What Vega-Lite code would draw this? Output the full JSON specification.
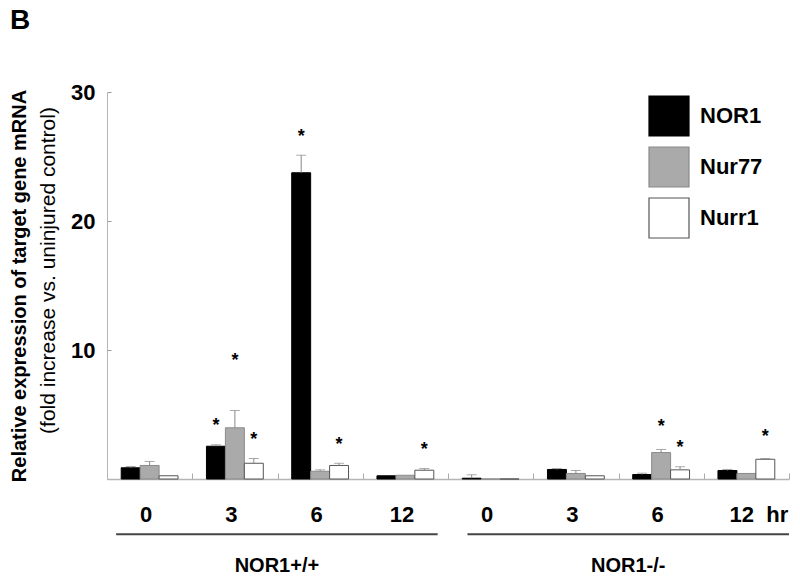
{
  "$schema": "https://vega.github.io/schema/vega-lite/v6.json",
  "width": 682,
  "height": 387,
  "autosize": {"type": "none"},
  "padding": {"left": 107, "top": 92, "right": 11, "bottom": 100},
  "background": "white",
  "config": {"font": "Liberation Sans", "view": {"stroke": null}, "axis": {"grid": false}},
  "title": {"text": "B", "anchor": "start", "frame": "group", "fontSize": 28, "fontWeight": "bold", "dx": -97, "offset": 46, "color": "black"},
  "datasets": {
    "expr": [
      {"group": "a_0", "gene": "NOR1", "value": 0.87, "hi": 0.97, "star": null},
      {"group": "a_0", "gene": "Nur77", "value": 1.05, "hi": 1.36, "star": null},
      {"group": "a_0", "gene": "Nurr1", "value": 0.25, "hi": 0.25, "star": null},
      {"group": "a_3", "gene": "NOR1", "value": 2.54, "hi": 2.65, "star": 4.38},
      {"group": "a_3", "gene": "Nur77", "value": 3.97, "hi": 5.31, "star": 9.42},
      {"group": "a_3", "gene": "Nurr1", "value": 1.22, "hi": 1.59, "star": 3.37},
      {"group": "a_6", "gene": "NOR1", "value": 23.74, "hi": 25.1, "star": 26.8},
      {"group": "a_6", "gene": "Nur77", "value": 0.6, "hi": 0.71, "star": null},
      {"group": "a_6", "gene": "Nurr1", "value": 1.05, "hi": 1.22, "star": 2.98},
      {"group": "a_12", "gene": "NOR1", "value": 0.25, "hi": 0.25, "star": null},
      {"group": "a_12", "gene": "Nur77", "value": 0.29, "hi": 0.29, "star": null},
      {"group": "a_12", "gene": "Nurr1", "value": 0.68, "hi": 0.81, "star": 2.54},
      {"group": "b_0", "gene": "NOR1", "value": 0.06, "hi": 0.33, "star": null},
      {"group": "b_0", "gene": "Nur77", "value": 0, "hi": 0, "star": null},
      {"group": "b_0", "gene": "Nurr1", "value": 0, "hi": 0, "star": null},
      {"group": "b_3", "gene": "NOR1", "value": 0.74, "hi": 0.81, "star": null},
      {"group": "b_3", "gene": "Nur77", "value": 0.43, "hi": 0.66, "star": null},
      {"group": "b_3", "gene": "Nurr1", "value": 0.25, "hi": 0.25, "star": null},
      {"group": "b_6", "gene": "NOR1", "value": 0.35, "hi": 0.45, "star": null},
      {"group": "b_6", "gene": "Nur77", "value": 2.05, "hi": 2.29, "star": 4.36},
      {"group": "b_6", "gene": "Nurr1", "value": 0.71, "hi": 0.95, "star": 2.75},
      {"group": "b_12", "gene": "NOR1", "value": 0.66, "hi": 0.74, "star": null},
      {"group": "b_12", "gene": "Nur77", "value": 0.43, "hi": 0.43, "star": null},
      {"group": "b_12", "gene": "Nurr1", "value": 1.53, "hi": 1.59, "star": 3.53}
    ],
    "genotypes": [{"geno": "NOR1+/+"}, {"geno": "NOR1-/-"}]
  },
  "layer": [
    {
      "data": {"name": "expr"},
      "mark": {"type": "bar", "strokeWidth": 1},
      "encoding": {
        "x": {
          "field": "group", "type": "nominal",
          "scale": {"domain": ["a_0", "a_3", "a_6", "a_12", "b_0", "b_3", "b_6", "b_12"], "paddingInner": 0, "paddingOuter": 0},
          "axis": {
            "orient": "bottom", "title": null,
            "labelExpr": "datum.value === 'b_12' ? '12\u00a0\u00a0hr' : split(datum.value, '_')[1]",
            "labelAngle": 0, "labelFontSize": 22, "labelFontWeight": "bold", "labelColor": "black",
            "labelPadding": 31,
            "labelOffset": {"condition": {"test": "datum.value === 'b_12'", "value": 12}, "value": -4},
            "tickBand": "extent", "tickSize": -6, "tickColor": "#aaaaaa", "domainColor": "#b5b5b5", "domainWidth": 1.5
          }
        },
        "xOffset": {"field": "gene", "type": "nominal", "scale": {"domain": ["NOR1", "Nur77", "Nurr1"], "paddingOuter": 0.75, "paddingInner": 0}},
        "y": {
          "field": "value", "type": "quantitative",
          "scale": {"domain": [0, 30], "nice": false},
          "axis": {
            "orient": "left", "values": [10, 20, 30], "tickSize": -4, "tickColor": "#999999", "domainColor": "#b5b5b5",
            "labelFontSize": 22, "labelFontWeight": "bold", "labelColor": "black", "labelPadding": 16,
            "title": "Relative expression of target gene mRNA", "titleFontSize": 20, "titleFontWeight": "bold", "titleColor": "black", "titlePadding": 41
          }
        },
        "fill": {
          "field": "gene", "type": "nominal",
          "scale": {"domain": ["NOR1", "Nur77", "Nurr1"], "range": ["#000000", "#aaaaaa", "#ffffff"]},
          "legend": {
            "title": null, "orient": "none", "legendX": 541, "legendY": 3, "padding": 0,
            "symbolType": "square", "symbolSize": 1600, "symbolStrokeColor": "black", "symbolStrokeWidth": 1.2,
            "rowPadding": 5, "labelOffset": 10, "labelFontSize": 22, "labelFontWeight": "bold", "labelColor": "black",
            "encode": {"symbols": {"update": {"fill": {"signal": "datum.value === 'Nur77' ? '#777777' : scale('fill', datum.value)"}, "stroke": {"value": "black"}}}}
          }
        },
        "stroke": {
          "field": "gene", "type": "nominal",
          "scale": {"domain": ["NOR1", "Nur77", "Nurr1"], "range": ["#000000", "#8a8a8a", "#555555"]},
          "legend": null
        }
      }
    },
    {
      "data": {"name": "expr"},
      "transform": [{"filter": "datum.hi > datum.value"}],
      "mark": {"type": "rule", "color": "#888888", "strokeWidth": 1},
      "encoding": {
        "x": {"field": "group", "type": "nominal", "axis": null, "scale": {"domain": ["a_0", "a_3", "a_6", "a_12", "b_0", "b_3", "b_6", "b_12"], "paddingInner": 0, "paddingOuter": 0}},
        "xOffset": {"field": "gene", "type": "nominal", "scale": {"domain": ["NOR1", "Nur77", "Nurr1"], "paddingOuter": 0.75, "paddingInner": 0}},
        "y": {"field": "value", "type": "quantitative", "axis": null, "scale": {"domain": [0, 30], "nice": false}},
        "y2": {"field": "hi"}
      }
    },
    {
      "data": {"name": "expr"},
      "transform": [{"filter": "datum.hi > datum.value"}],
      "mark": {"type": "tick", "color": "#888888", "thickness": 1, "size": 10},
      "encoding": {
        "x": {"field": "group", "type": "nominal", "axis": null, "scale": {"domain": ["a_0", "a_3", "a_6", "a_12", "b_0", "b_3", "b_6", "b_12"], "paddingInner": 0, "paddingOuter": 0}},
        "xOffset": {"field": "gene", "type": "nominal", "scale": {"domain": ["NOR1", "Nur77", "Nurr1"], "paddingOuter": 0.75, "paddingInner": 0}},
        "y": {"field": "hi", "type": "quantitative", "axis": null, "scale": {"domain": [0, 30], "nice": false}}
      }
    },
    {
      "data": {"name": "expr"},
      "transform": [{"filter": "datum.star != null"}],
      "mark": {"type": "text", "text": "*", "fontSize": 18, "fontWeight": "bold", "baseline": "alphabetic", "dy": 9, "color": "black"},
      "encoding": {
        "x": {"field": "group", "type": "nominal", "axis": null, "scale": {"domain": ["a_0", "a_3", "a_6", "a_12", "b_0", "b_3", "b_6", "b_12"], "paddingInner": 0, "paddingOuter": 0}},
        "xOffset": {"field": "gene", "type": "nominal", "scale": {"domain": ["NOR1", "Nur77", "Nurr1"], "paddingOuter": 0.75, "paddingInner": 0}},
        "y": {"field": "star", "type": "quantitative", "axis": null, "scale": {"domain": [0, 30], "nice": false}}
      }
    },
    {
      "data": {"name": "genotypes"},
      "mark": {"type": "bar", "color": "#444444"},
      "encoding": {
        "x": {
          "field": "geno", "type": "nominal",
          "scale": {"domain": ["NOR1+/+", "NOR1-/-"], "paddingInner": 0.085, "paddingOuter": 0.013, "align": 1},
          "axis": {"orient": "bottom", "title": null, "domain": false, "ticks": false, "labelAngle": 0, "labelPadding": 76, "labelFontSize": 20, "labelFontWeight": "bold", "labelColor": "black"}
        },
        "y": {
          "datum": -4.21, "type": "quantitative",
          "scale": {"domain": [0, 30], "nice": false},
          "axis": {"orient": "left", "labels": false, "ticks": false, "domain": false, "grid": false, "title": "(fold increase vs. uninjured control)", "titleFontSize": 21, "titleFontWeight": "normal", "titleColor": "black", "titlePadding": 49, "titleY": 178}
        },
        "y2": {"datum": -4.37}
      }
    }
  ],
  "resolve": {"scale": {"x": "independent"}, "axis": {"x": "independent", "y": "independent"}}
}
